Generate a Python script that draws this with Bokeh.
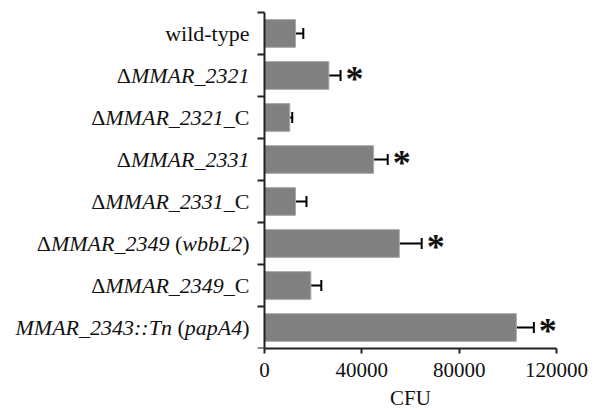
from bokeh.plotting import figure
from bokeh.models import ColumnDataSource, Range1d, FixedTicker, Whisker, TeeHead, BasicTickFormatter, Title
from bokeh.core.properties import value
from bokeh.embed import file_html
from bokeh.resources import INLINE

# ---- data (top to bottom) ----
strains = ["wild-type", "ΔMMAR_2321", "ΔMMAR_2321_C", "ΔMMAR_2331", "ΔMMAR_2331_C",
           "ΔMMAR_2349 (wbbL2)", "ΔMMAR_2349_C", "MMAR_2343::Tn (papA4)"]
# label pieces: (text, style)
label_parts = [
    [("wild-type", "normal")],
    [("Δ", "normal"), ("MMAR_2321", "italic")],
    [("Δ", "normal"), ("MMAR_2321", "italic"), ("_C", "normal")],
    [("Δ", "normal"), ("MMAR_2331", "italic")],
    [("Δ", "normal"), ("MMAR_2331", "italic"), ("_C", "normal")],
    [("Δ", "normal"), ("MMAR_2349", "italic"), (" (", "normal"), ("wbbL2", "italic"), (")", "normal")],
    [("Δ", "normal"), ("MMAR_2349", "italic"), ("_C", "normal")],
    [("MMAR_2343::Tn", "italic"), (" (", "normal"), ("papA4", "italic"), (")", "normal")],
]
cfu = [12750, 26450, 10400, 44840, 12750, 55400, 19050, 103500]
err = [3200, 4800, 1000, 5800, 4500, 9200, 4300, 7200]
significant = [False, True, False, True, False, True, False, True]
x_ticks = [0, 40000, 80000, 120000]
x_max = 120000
x_label = "CFU"

# ---- font metrics (Times-compatible advance widths, per 1000 em) ----
W_NORMAL = {"Δ": 612, " ": 250, "(": 333, ")": 333, "-": 333, "_": 500, "C": 667, "F": 556, "U": 722,
            "w": 722, "i": 278, "l": 278, "d": 500, "t": 278, "y": 500, "p": 500, "e": 444}
W_ITALIC = {"M": 833, "A": 611, "R": 611, "_": 500, "w": 667, "b": 500, "L": 556,
            ":": 333, "T": 556, "n": 500, "p": 500, "a": 500}
def text_width(s, style, size):
    table = W_ITALIC if style == "italic" else W_NORMAL
    return sum(table.get(ch, 500) for ch in s) / 1000.0 * size

# ---- layout (pixels) ----
WIDTH, HEIGHT = 599, 413
AXIS_X = 264          # pixel position of x = 0
FRAME_RIGHT = 556     # pixel position of x = x_max
FRAME_TOP = 8
CAT_TOP = 12          # top of category area
FRAME_BOTTOM = 350
FONT = "Liberation Serif"
LAB_SIZE = 22
AX_SIZE = 21
GAP = 15
YTICK = 7

n = len(strains)
px_per_x = (FRAME_RIGHT - AXIS_X) / x_max
x_start = -AXIS_X / px_per_x
px_per_y = (FRAME_BOTTOM - CAT_TOP) / n
y_end = (FRAME_BOTTOM - FRAME_TOP) / px_per_y

ypos = [n - i - 0.5 for i in range(n)]
upper = [c + e for c, e in zip(cfu, err)]
src = ColumnDataSource(dict(y=ypos, cfu=cfu, upper=upper))

p = figure(width=WIDTH, height=HEIGHT, output_backend="svg", toolbar_location=None,
           x_range=Range1d(x_start, x_max), y_range=Range1d(0, y_end),
           min_border_left=0, min_border_right=WIDTH - FRAME_RIGHT,
           min_border_top=FRAME_TOP, min_border_bottom=HEIGHT - FRAME_BOTTOM)
p.outline_line_color = None
p.xgrid.visible = False
p.ygrid.visible = False
p.yaxis.visible = False
p.background_fill_color = "white"

p.hbar(y="y", left=0, right="cfu", height=0.66, source=src,
       fill_color="#808080", line_color="#a8a8a8", line_width=1)

wh = Whisker(source=src, base="y", lower="cfu", upper="upper", dimension="width",
             line_color="black", line_width=2,
             upper_head=TeeHead(size=11, line_color="black", line_width=2), lower_head=None)
p.add_layout(wh)

# y axis line and ticks at category boundaries
bounds = list(range(n + 1))
p.segment(x0=[0], y0=[0], x1=[0], y1=[n], line_color="#222222", line_width=2)
tick_len = YTICK / px_per_x
p.segment(x0=[-tick_len] * len(bounds), y0=bounds, x1=[0] * len(bounds), y1=bounds,
          line_color="#222222", line_width=2)

# asterisks
sx = [u for u, s in zip(upper, significant) if s]
sy = [y for y, s in zip(ypos, significant) if s]
p.text(x=sx, y=sy, text=["*"] * len(sx), x_offset=14, y_offset=4,
       text_align="center", text_baseline="middle",
       text_font=value(FONT), text_font_size="36px", text_font_style="bold", text_color="#111111")

# category labels (mixed upright / italic pieces)
seg = {"normal": dict(x=[], y=[], t=[], off=[]), "italic": dict(x=[], y=[], t=[], off=[])}
for parts, yv in zip(label_parts, ypos):
    right = GAP
    for txt, style in reversed(parts):
        shown = txt.strip()
        if shown:
            seg[style]["x"].append(0)
            seg[style]["y"].append(yv)
            seg[style]["t"].append(shown)
            seg[style]["off"].append(-(right + text_width(txt[len(txt.rstrip()):], style, LAB_SIZE)))
        right += text_width(txt, style, LAB_SIZE)
for style, d in seg.items():
    s = ColumnDataSource(d)
    p.text(x="x", y="y", text="t", x_offset="off", y_offset=0, source=s,
           text_align="right", text_baseline="alphabetic",
           text_font=value(FONT), text_font_size=f"{LAB_SIZE}px",
           text_font_style=style, text_color="#111111")

# x axis
p.xaxis.bounds = (0, x_max)
p.xaxis.ticker = FixedTicker(ticks=x_ticks)
p.xaxis.formatter = BasicTickFormatter(use_scientific=False)
p.xaxis.major_label_text_font = FONT
p.xaxis.major_label_text_font_size = f"{AX_SIZE}px"
p.xaxis.major_label_text_color = "#111111"
p.xaxis.major_label_standoff = 9
p.xaxis.major_tick_out = 5
p.xaxis.major_tick_in = 0
p.xaxis.minor_tick_line_color = None
p.xaxis.axis_line_width = 2
p.xaxis.axis_line_color = "#222222"
p.xaxis.major_tick_line_width = 2
p.xaxis.major_tick_line_color = "#222222"

# axis title centred under the value axis
title_center = (AXIS_X + FRAME_RIGHT) / 2
t = Title(text=x_label, align="left",
          offset=title_center - text_width(x_label, "normal", AX_SIZE) / 2,
          text_font=FONT, text_font_size=f"{AX_SIZE}px", text_font_style="normal",
          text_color="#111111", standoff=8, text_line_height=0.9)
p.add_layout(t, "below")

open("out.html", "w").write(file_html(p, INLINE))
